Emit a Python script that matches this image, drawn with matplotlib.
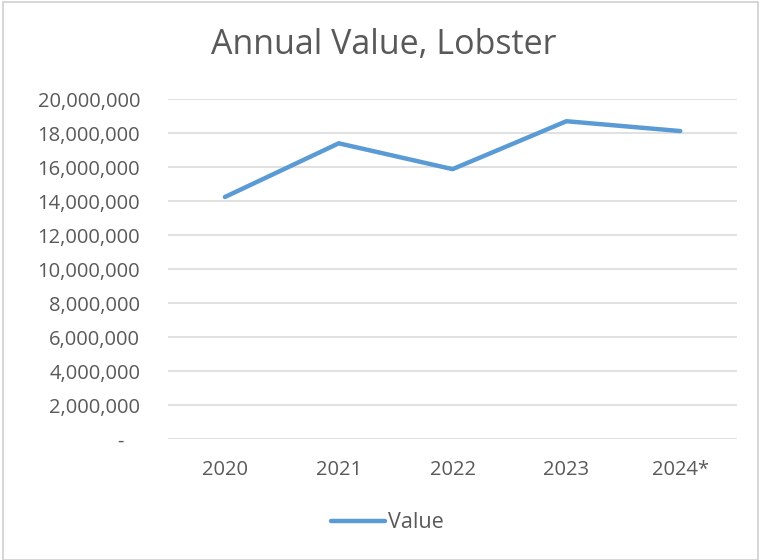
import matplotlib.pyplot as plt
from matplotlib.patches import Rectangle
from matplotlib.ticker import FuncFormatter

# data
years = ["2020", "2021", "2022", "2023", "2024*"]
values = [14240000, 17400000, 15880000, 18700000, 18120000]
y_ticks = list(range(0, 20000001, 2000000))

plt.rcParams['font.family'] = ['Open Sans', 'DejaVu Sans']

fig = plt.figure(figsize=(7.6, 5.6), dpi=100)
ax = fig.add_axes([0.221, 0.216, 0.749, 0.607])

# thin window border like the screenshot
fig.patches.append(Rectangle((0.004, 0.0), 0.994, 0.996, transform=fig.transFigure,
                             fill=False, ec="#d0d0d0", lw=1.2))

x = list(range(len(years)))
ax.plot(x, values, color="#5b9bd5", lw=3.2, solid_capstyle="round",
        solid_joinstyle="round", label="Value", zorder=3)

ax.set_xlim(-0.5, len(years) - 0.5)
ax.set_ylim(0, 20000000)
ax.set_yticks(y_ticks)
# Excel accounting style: zero shown as a dash, offset a little from the edge
ax.yaxis.set_major_formatter(FuncFormatter(lambda v, p: "-   " if v == 0 else f"{int(v):,}"))
ax.set_xticks(x)
ax.set_xticklabels(years)

ax.grid(axis="y", color="#d9d9d9", lw=1.1)
ax.grid(axis="x", visible=False)
ax.set_axisbelow(True)
for s in ax.spines.values():
    s.set_visible(False)
ax.tick_params(axis="both", length=0, labelsize=14.5, colors="#595959")
ax.tick_params(axis="y", pad=20)
ax.tick_params(axis="x", pad=15)

fig.text(0.505, 0.92, "Annual Value, Lobster", ha="center", va="center",
         fontsize=24.5, color="#595959")

ax.legend(loc="center", bbox_to_anchor=(0.51, 0.0666), bbox_transform=fig.transFigure,
          frameon=False, fontsize=15.5, handlelength=2.5, handletextpad=0.15,
          labelcolor="#595959")

fig.savefig("out.png", dpi=100, facecolor="white")
